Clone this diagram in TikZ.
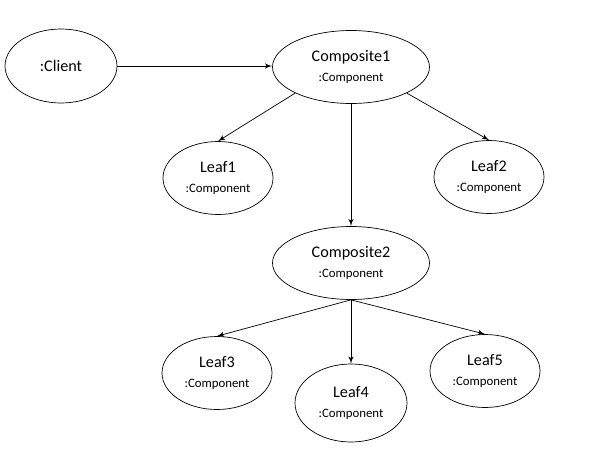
\documentclass[tikz,border=0pt]{standalone}
\usepackage{fontspec}
\setmainfont{Carlito}
\usepackage{tikz}
\usetikzlibrary{arrows, shapes.geometric}

\begin{document}
\begin{tikzpicture}[node distance=0.3cm, auto, ->, > = latex',
       shorten > = 0pt]

\tikzstyle{obj}  = [ellipse, draw, thin, inner sep=0pt, align=center,
                    font=\fontsize{9.2}{11}\selectfont]
\tikzstyle{comp} = [obj, minimum width=3.14cm, minimum height=1.46cm]
\tikzstyle{leaf} = [obj, minimum width=2.2cm, minimum height=1.46cm]

\useasboundingbox (0,0) rectangle (11.82,-9.2);

    % client
    \node[obj, minimum width=2.24cm, minimum height=1.48cm] (Client) at (1.22,-1.32) {:Client};

    % composites
    \node[comp] (Comp-1) at (7.02,-1.34) {Composite1\\{\fontsize{7.3}{9}\selectfont :Component}};
    \node[comp] (Comp-2) at (7.02,-5.26) {Composite2\\{\fontsize{7.3}{9}\selectfont :Component}};

    % leaves
    \foreach \i / \x / \y in {1/4.36/-3.56, 2/9.78/-3.54, 3/4.34/-7.46, 5/9.70/-7.42}
        \node[leaf] (Leaf-\i) at (\x,\y) {Leaf\i\\{\fontsize{7.3}{9}\selectfont :Component}};
    \node[leaf, minimum width=2.24cm, minimum height=1.56cm] (Leaf-4) at (7.02,-8.06)
        {Leaf4\\{\fontsize{7.3}{9}\selectfont :Component}};

    % connections
    \path (Client.east) edge (Client.east -| Comp-1.west);
    \path (Comp-1.south west) edge (Leaf-1.north);
    \path (Comp-1.south) edge (Comp-2.north);
    \path (Comp-1.south east) edge (Leaf-2.north);

    \foreach \i in {3,4,5}
        \path (Comp-2.south) edge (Leaf-\i.north);

\end{tikzpicture}
\end{document}
